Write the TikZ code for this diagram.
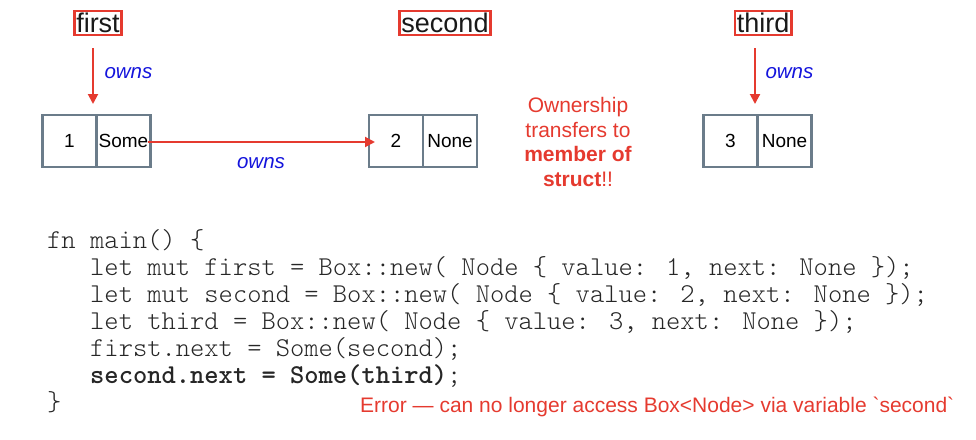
\documentclass[tikz,border=0pt]{standalone}
\usepackage{fontspec}
\setmainfont{Liberation Sans}
\newfontfamily\codefont{lmmonolt10-regular.otf}[BoldFont=lmmonolt10-bold.otf]
\usetikzlibrary{arrows.meta}
\definecolor{myred}{HTML}{E53A2F}
\definecolor{myblue}{HTML}{1414DC}
\definecolor{boxgray}{HTML}{6B7C8A}
\tikzset{
  varbox/.style={draw=myred,line width=2.5pt,inner sep=2pt,font=\fontsize{27}{30}\selectfont,text=black!90},
  cell/.style={draw=boxgray,line width=2.5pt,minimum width=54pt,minimum height=52pt,inner sep=0pt,font=\fontsize{19}{22}\selectfont},
  ownarrow/.style={draw=myred,line width=2pt,-{Triangle[length=10pt,width=10pt]}},
  ownlabel/.style={text=myblue,font=\fontsize{20.5}{24}\selectfont\itshape},
  code/.style={anchor=base west,font=\fontsize{27.2}{27}\selectfont\codefont,text=black!85,inner sep=0pt},
}
\begin{document}
\begin{tikzpicture}[x=1pt,y=-1pt]
\useasboundingbox (0,0) rectangle (976,439);
% variable labels
\node[varbox] (vfirst) at (98,23) {first};
\node[varbox] (vsecond) at (445,23) {second};
\node[varbox] (vthird) at (763,23) {third};
% boxes
\node[cell] (v1) at (69.5,141) {\raisebox{-3pt}{1}};
\node[cell] (n1) at (123.5,141) {Some};
\node[cell] (v2) at (396,141) {\raisebox{-3pt}{2}};
\node[cell] (n2) at (450,141) {None};
\node[cell] (v3) at (730.5,141) {\raisebox{-3pt}{3}};
\node[cell] (n3) at (784.5,141) {None};
% arrows
\coordinate (a1s) at (93,48);
\coordinate (a1e) at (93,104);
\draw[ownarrow] (a1s) -- (a1e);
\node[ownlabel,anchor=west] (o1) at (101,73) {owns};
\coordinate (a3s) at (755,48);
\coordinate (a3e) at (755,104);
\draw[ownarrow] (a3s) -- (a3e);
\node[ownlabel,anchor=west] (o3) at (762,73) {owns};
\coordinate (h1) at (148,142);
\coordinate (h2) at (375,142);
\draw[ownarrow] (h1) -- (h2);
\node[ownlabel] (o2) at (261,163) {owns};
% comment
\node[text=myred,align=center,font=\fontsize{21}{24.5}\selectfont] (note) at (578,142)
  {Ownership\\transfers to\\\textbf{member of}\\\textbf{struct}!!};
% code
\node[code] (c1) at (47,248) {fn main() \{};
\node[code] (c2) at (90,275) {let mut first = Box::new( Node \{ value: 1, next: None \});};
\node[code] (c3) at (90,302) {let mut second = Box::new( Node \{ value: 2, next: None \});};
\node[code] (c4) at (90,329) {let third = Box::new( Node \{ value: 3, next: None \});};
\node[code] (c5) at (90,356) {first.next = Some(second);};
\node[code] (c6) at (90,383) {\textbf{second.next = Some(third)};};
\node[code] (c7) at (47,410) {\}};
\node[anchor=base west,inner sep=0pt,text=myred,font=\fontsize{21}{24}\selectfont] (err) at (360,412)
  {Error — can no longer access Box<Node> via variable \textasciigrave second\textasciigrave};
\end{tikzpicture}
\end{document}
